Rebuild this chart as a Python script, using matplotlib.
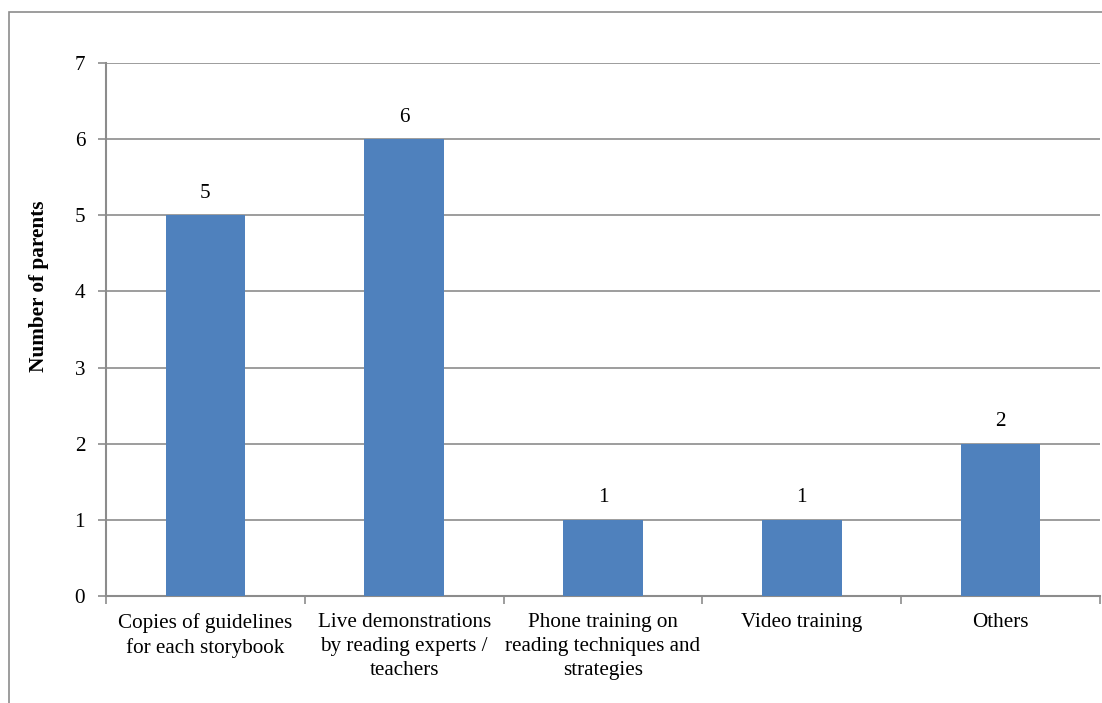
import matplotlib
matplotlib.use("Agg")
import matplotlib.pyplot as plt
from matplotlib.patches import Rectangle

categories = [
    "Copies of guidelines\nfor each storybook",
    "Live demonstrations\nby reading experts /\nteachers",
    "Phone training on\nreading techniques and\nstrategies",
    "Video training",
    "Others",
]
values = [5, 6, 1, 1, 2]
y_ticks = [0, 1, 2, 3, 4, 5, 6, 7]

plt.rcParams["font.family"] = ["Liberation Serif", "DejaVu Serif"]

W, H = 1102, 703
fig = plt.figure(figsize=(W / 100, H / 100), dpi=100)
ax = fig.add_axes([106 / W, 1 - 596 / H, (1100 - 106) / W, (596 - 63) / H])

grey = "#8c8c8c"
bar_color = "#4f81bd"
fs = 15.2

x = list(range(len(values)))
ax.bar(x, values, width=0.4, color=bar_color, zorder=3)
for xi, v in zip(x, values):
    ax.annotate(str(v), (xi, v), xytext=(0, 9), textcoords="offset points",
                ha="center", va="bottom", fontsize=fs)

ax.set_xlim(-0.5, len(values) - 0.5)
ax.set_ylim(0, 7)
ax.set_yticks(y_ticks)
ax.set_yticklabels([str(t) for t in y_ticks], fontsize=fs)
ax.yaxis.grid(True, color=grey, linewidth=1.2, zorder=0)
ax.set_axisbelow(True)

# category labels centered, tick marks at category boundaries
ax.set_xticks(x)
ax.set_xticklabels(categories, fontsize=fs, linespacing=1.36)
ax.tick_params(axis="x", length=0, pad=12)
ax.set_xticks([i - 0.5 for i in range(len(values) + 1)], minor=True)
ax.tick_params(axis="x", which="minor", length=6, color=grey, width=1.2)
ax.tick_params(axis="y", length=6, color=grey, width=1.2, pad=9)

for side in ["top", "right"]:
    ax.spines[side].set_visible(False)
for side in ["left", "bottom"]:
    ax.spines[side].set_color(grey)
    ax.spines[side].set_linewidth(1.5)

ax.set_ylabel("Number of parents", fontsize=15.3, fontweight="bold")
ax.yaxis.set_label_coords((49 - 106) / 994, (596 - 286) / 533)

# outer chart frame
fig.patches.append(Rectangle((9 / W, -0.2), 1.5, 0.2 + (1 - 12 / H),
                             transform=fig.transFigure, fill=False,
                             edgecolor=grey, linewidth=1.2))

fig.savefig("out.png", dpi=100)
